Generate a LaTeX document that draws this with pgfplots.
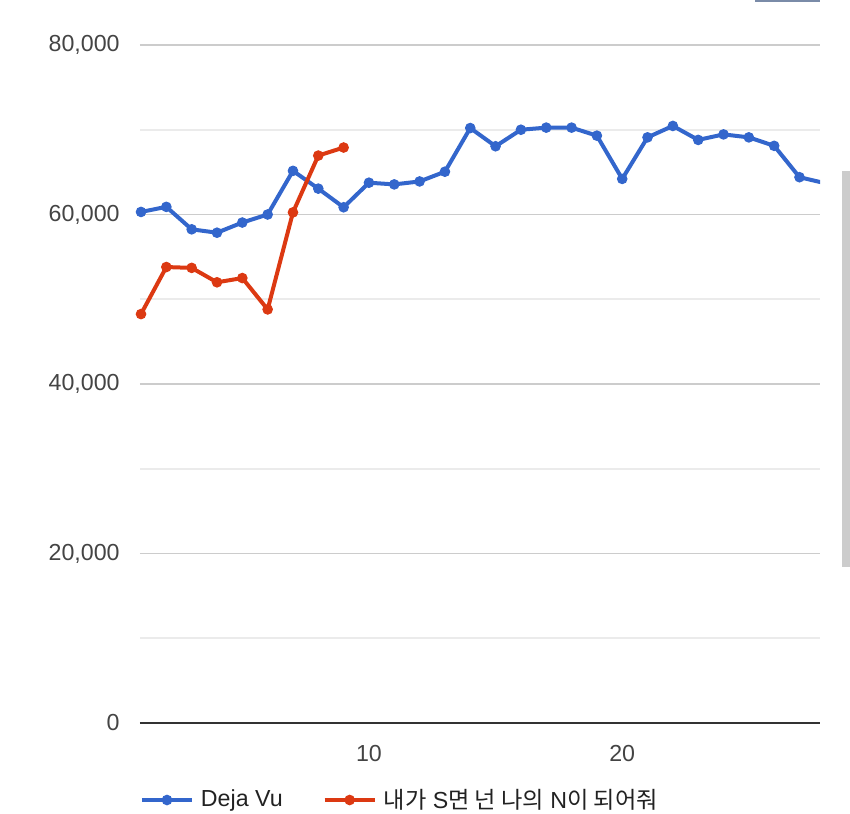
\documentclass[border=0pt]{standalone}
\usepackage{fontspec}
\setmainfont{Liberation Sans}
\newfontfamily\kr{Noto Sans CJK KR}
\usepackage{pgfplots}
\pgfplotsset{compat=1.18}
\definecolor{gblue}{HTML}{3366CC}
\definecolor{gred}{HTML}{DC3912}
\definecolor{tickgray}{HTML}{444444}
\definecolor{legtext}{HTML}{222222}
\definecolor{majgrid}{HTML}{CCCCCC}
\definecolor{mingrid}{HTML}{EBEBEB}
\definecolor{basecol}{HTML}{333333}
\definecolor{topbar}{HTML}{7A8BA8}
\begin{document}
\begin{tikzpicture}
\path[use as bounding box] (-70pt,-45pt) rectangle (355pt,361.5pt);
\begin{axis}[
  at={(0,0)}, anchor=south west,
  scale only axis, width=340pt, height=360.2pt,
  xmin=0.96, xmax=27.81, ymin=0, ymax=85000,
  axis line style={draw=none},
  xtick={10,20},
  ytick={20000,40000,60000,80000},
  minor ytick={10000,30000,50000,70000},
  extra y ticks={0},
  extra y tick style={grid=major, major grid style={color=basecol, line width=1pt}},
  ymajorgrids, yminorgrids,
  major grid style={color=majgrid, line width=0.8pt},
  minor grid style={color=mingrid, line width=0.8pt},
  major tick length=0pt, minor tick length=0pt,
  tick style={draw=none},
  ticklabel style={font=\fontsize{11.6}{14}\selectfont, text=tickgray},
  yticklabel style={anchor=east, inner sep=0pt, xshift=-10pt},
  xticklabel style={anchor=north, inner sep=0pt, yshift=-11pt},
  /pgf/number format/assume math mode=true,
  /pgf/number format/1000 sep={,},
  scaled y ticks=false,
  legend columns=2,
  legend style={at={(0,-0.1069)}, anchor=west, draw=none, fill=none,
    inner sep=0pt, outer sep=0pt,
    font=\fontsize{11.6}{14}\selectfont, text=legtext,
    nodes={inner sep=0pt},
    column sep=3.5pt,
    /tikz/every even column/.append style={column sep=20pt}},
  legend image code/.code={\draw[#1, mark repeat=2, mark phase=2] plot coordinates {(0pt,0pt) (12.5pt,0pt) (25pt,0pt)};},
]
\addplot[gblue, line width=2pt, mark=*, mark size=2.4pt, mark options={solid, line width=0.5pt}] coordinates {
(1,60300) (2,60900) (3,58250) (4,57850) (5,59050) (6,60000) (7,65150) (8,63050)
(9,60850) (10,63750) (11,63550) (12,63900) (13,65050) (14,70200) (15,68050)
(16,70000) (17,70250) (18,70250) (19,69300) (20,64200) (21,69100) (22,70450)
(23,68800) (24,69450) (25,69100) (26,68100) (27,64400) (28,63700)
};
\addlegendentry{Deja Vu}
\addplot[gred, line width=2pt, mark=*, mark size=2.4pt, mark options={solid, line width=0.5pt}] coordinates {
(1,48250) (2,53800) (3,53700) (4,52000) (5,52500) (6,48800) (7,60250) (8,66950) (9,67900)
};
\addlegendentry{{\kr 내가} S{\kr 면 넌 나의} N{\kr 이 되어줘}}
\end{axis}
\fill[black!20] (351pt,78.2pt) rectangle (355pt,276.2pt);
\fill[topbar] (307.5pt,360.7pt) rectangle (340pt,361.5pt);
\end{tikzpicture}
\end{document}
